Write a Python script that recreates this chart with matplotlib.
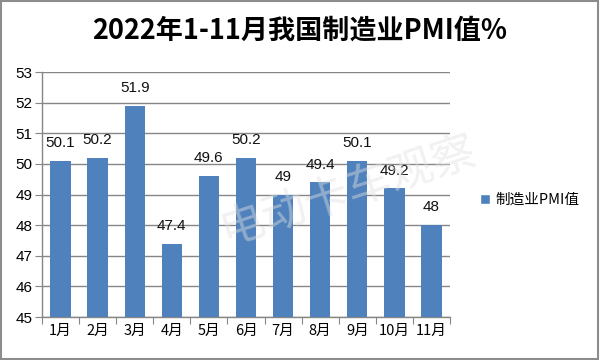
import matplotlib
matplotlib.use("Agg")
import matplotlib.pyplot as plt
from matplotlib.patches import Rectangle
from matplotlib.lines import Line2D

plt.rcParams['font.family'] = ['Noto Sans CJK SC', 'DejaVu Sans']

title = "2022年1-11月我国制造业PMI值%"
months = ["1月", "2月", "3月", "4月", "5月", "6月", "7月", "8月", "9月", "10月", "11月"]
pmi = [50.1, 50.2, 51.9, 47.4, 49.6, 50.2, 49, 49.4, 50.1, 49.2, 48]
labels = ["50.1", "50.2", "51.9", "47.4", "49.6", "50.2", "49", "49.4", "50.1", "49.2", "48"]
series_name = "制造业PMI值"
yticks = [45, 46, 47, 48, 49, 50, 51, 52, 53]

fig = plt.figure(figsize=(6, 3.6), dpi=100)
fig.patches.append(Rectangle((0.002, 0.003), 0.995, 0.994, transform=fig.transFigure,
                             fill=False, edgecolor="#8c8c8c", linewidth=1.5))
ax = fig.add_axes([0.07, 0.1194, 0.68, 0.6806])

color = "#4F81BD"
x = list(range(len(months)))
ax.bar(x, [v - 45 for v in pmi], bottom=45, width=0.55, color=color, zorder=3)
for xi, v, lab in zip(x, pmi, labels):
    ax.text(xi, v + 0.35, lab, ha="center", va="bottom", fontsize=11, color="#111111",
            family=["Liberation Sans", "DejaVu Sans"])

ax.set_ylim(45, 53)
ax.set_xlim(-0.5, len(months) - 0.5)
ax.set_yticks(yticks)
ax.set_yticklabels([str(t) for t in yticks], fontsize=11, family=["Liberation Sans", "DejaVu Sans"])
ax.yaxis.grid(True, color="#868686", linewidth=1, zorder=0)
ax.set_axisbelow(True)

ax.set_xticks([i - 0.5 for i in range(len(months) + 1)], minor=False)
ax.set_xticklabels([])
ax.set_xticks(x, minor=True)
ax.set_xticklabels(months, minor=True, fontsize=10.5)
ax.tick_params(axis="x", which="minor", length=0, pad=5)
ax.tick_params(axis="x", which="major", length=5, color="#868686", direction="out")
ax.tick_params(axis="y", length=5, color="#868686", direction="out", pad=2)

for s in ["top", "right"]:
    ax.spines[s].set_visible(False)
for s in ["left", "bottom"]:
    ax.spines[s].set_color("#868686")
    ax.spines[s].set_linewidth(1)

fig.text(0.5, 0.915, title, ha="center", va="center", fontsize=19.5, fontweight="bold")

fig.text(0.58, 0.47, "电动卡车观察", ha="center", va="center", fontsize=32, color="#e0e0e0",
         alpha=0.45, rotation=18, zorder=10, fontweight="light")

handle = Line2D([0], [0], marker="s", color="w", markerfacecolor=color, markersize=7, linestyle="")
fig.legend([handle], [series_name], loc="center left", bbox_to_anchor=(0.775, 0.445),
           frameon=False, fontsize=10.5, handletextpad=0.2, handlelength=1)

fig.savefig("out.png", dpi=100)
